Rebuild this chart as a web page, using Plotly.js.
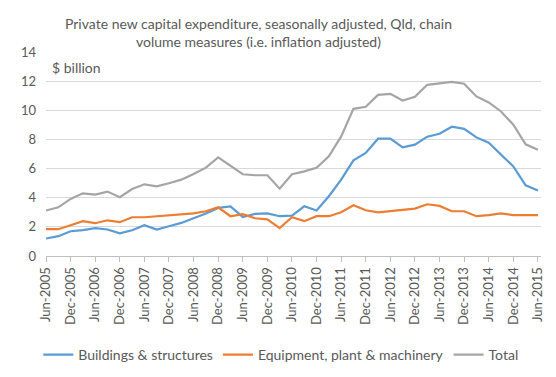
<!DOCTYPE html>
<html><head><meta charset="utf-8">
<script src="https://cdn.plot.ly/plotly-3.0.1.min.js"></script>
<style>html,body{margin:0;padding:0;background:#fff}#c{width:556px;height:377px}</style>
</head><body><div id="c"></div>
<script>
const quarters = ["Jun-2005","Sep-2005","Dec-2005","Mar-2006","Jun-2006","Sep-2006","Dec-2006","Mar-2007","Jun-2007","Sep-2007","Dec-2007","Mar-2008","Jun-2008","Sep-2008","Dec-2008","Mar-2009","Jun-2009","Sep-2009","Dec-2009","Mar-2010","Jun-2010","Sep-2010","Dec-2010","Mar-2011","Jun-2011","Sep-2011","Dec-2011","Mar-2012","Jun-2012","Sep-2012","Dec-2012","Mar-2013","Jun-2013","Sep-2013","Dec-2013","Mar-2014","Jun-2014","Sep-2014","Dec-2014","Mar-2015","Jun-2015"];
const tickLabels = ["Jun-2005","Dec-2005","Jun-2006","Dec-2006","Jun-2007","Dec-2007","Jun-2008","Dec-2008","Jun-2009","Dec-2009","Jun-2010","Dec-2010","Jun-2011","Dec-2011","Jun-2012","Dec-2012","Jun-2013","Dec-2013","Jun-2014","Dec-2014","Jun-2015"];
const buildings = [1.20,1.36,1.70,1.77,1.91,1.82,1.56,1.77,2.11,1.82,2.04,2.27,2.59,2.91,3.30,3.41,2.68,2.89,2.93,2.73,2.77,3.41,3.12,4.10,5.24,6.56,7.07,8.05,8.05,7.45,7.64,8.19,8.39,8.87,8.73,8.14,7.78,6.93,6.15,4.85,4.49];
const equipment = [1.84,1.84,2.11,2.39,2.25,2.45,2.32,2.66,2.66,2.73,2.80,2.87,2.93,3.07,3.34,2.73,2.87,2.59,2.52,1.91,2.66,2.39,2.73,2.73,3.00,3.48,3.14,3.00,3.07,3.18,3.25,3.55,3.44,3.07,3.07,2.73,2.80,2.93,2.80,2.80,2.80];
const total = [3.12,3.34,3.92,4.30,4.21,4.42,4.03,4.60,4.92,4.78,4.99,5.24,5.63,6.06,6.77,6.22,5.61,5.54,5.54,4.62,5.61,5.81,6.05,6.84,8.21,10.10,10.24,11.06,11.13,10.67,10.92,11.75,11.84,11.95,11.82,10.95,10.54,9.92,9.01,7.66,7.29];
const yTicks = [0,2,4,6,8,10,12,14];

const font = "Lato, 'Open Sans', sans-serif";
const grey = "#595959";
const mk = (name, y, color) => ({type:"scatter", mode:"lines", name, x: quarters, y,
  line:{color, width:2.2}, hoverinfo:"skip"});
const data = [mk("Buildings & structures", buildings, "#5B9BD5"),
              mk("Equipment, plant & machinery", equipment, "#ED7D31"),
              mk("Total", total, "#A5A5A5")];
const plotH = 256.5 - 51.5;
const layout = {
  width:556, height:377, paper_bgcolor:"#fff", plot_bgcolor:"#fff",
  margin:{l:46, r:14.5, t:51.5, b:120.5},
  font:{family:font, color:grey, size:13},
  showlegend:true,
  xaxis:{type:"category", categoryarray:quarters, range:[0,40.25], tickmode:"array", tickvals:tickLabels, ticktext:tickLabels,
    tickangle:-90, ticks:"outside", ticklen:5, tickcolor:"#BFBFBF", showline:true, linecolor:"#BFBFBF", linewidth:1,
    showgrid:false, tickfont:{size:13, color:grey}, fixedrange:true},
  yaxis:{range:[0,14], tickmode:"array", tickvals:yTicks, showgrid:true, gridcolor:"#D9D9D9", gridwidth:1,
    zeroline:false, showline:false, ticks:"", ticklabelstandoff:9, tickfont:{size:13, color:grey}, fixedrange:true},
  legend:{orientation:"h", x:0.505, xanchor:"center", xref:"container", y:(377-355)/377, yanchor:"middle", yref:"container",
    font:{size:14, color:grey}, itemwidth:30, traceorder:"normal", tracegroupgap:0},
  annotations:[
    {text:"$ billion", xref:"paper", yref:"paper", x:(50-46)/495.5, y:(256.5-67)/plotH, xanchor:"left", yanchor:"middle",
     showarrow:false, font:{size:14, color:grey, family:font}},
    {text:"Private new capital expenditure, seasonally adjusted, Qld, chain<br>volume measures (i.e. inflation adjusted)",
     xref:"paper", yref:"paper", x:(259-46)/495.5, y:(256.5-32)/plotH, xanchor:"center", yanchor:"middle", align:"center",
     showarrow:false, font:{size:14, color:grey, family:font}}
  ]
};
Plotly.newPlot("c", data, layout, {displayModeBar:false, staticPlot:true});
</script></body></html>
